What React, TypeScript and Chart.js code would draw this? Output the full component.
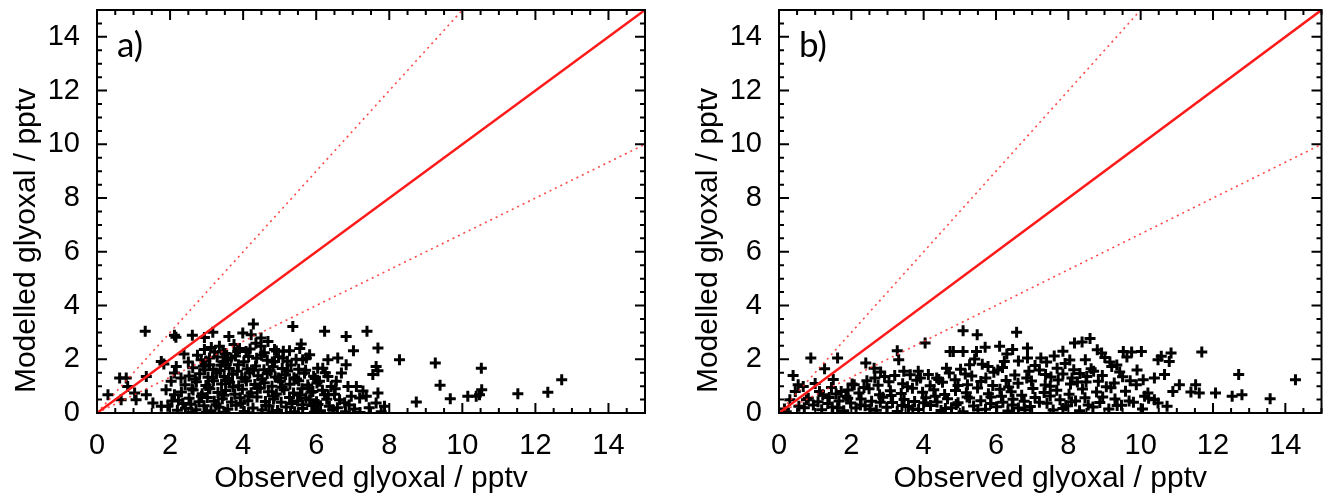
import React, { useEffect, useRef } from "react";
import { Chart, registerables } from "chart.js";
Chart.register(...registerables);

// ---------- axis / reference data ----------
const tickValues = [0, 2, 4, 6, 8, 10, 12, 14];
const axisMin = 0;
const axisMax = 15;
const oneToOneX = [0, 15];
const oneToOneY = [0, 15];
const upperX = [0, 10];
const upperY = [0, 15];
const lowerX = [0, 15];
const lowerY = [0, 10];
const xTitle = "Observed glyoxal / pptv";
const yTitle = "Modelled glyoxal / pptv";

// ---------- panel a) ----------
const obsA = [
  1.32, 2.12, 2.16, 2.61, 2.94, 3.17, 3.61, 4.28, 3.99, 4.22, 4.49,
  1.76, 1.83, 2.38, 2.17, 2.12, 0.62, 0.8, 1.35, 0.3, 0.84, 1.03, 1.07, 1.35, 0.66, 1.53, 1.76, 1.94, 1.89, 2.03, 2.12,
  2.94, 3.13, 3.35, 3.44, 2.85, 3.08, 3.08, 3.85, 4.08, 4.49, 4.68, 3.67, 3.54,
  5.36, 6.23, 6.82, 7.39, 5.59, 7.02, 7.69, 8.28, 9.26, 5.27, 6.32, 6.59, 6.82, 7.64, 7.55, 7.69, 9.39, 9.67, 8.74, 7.69,
  7.64, 7.87, 7.37, 7.19, 6.96, 7.1, 6.87, 6.69, 6.55, 6.41, 6.32, 6.23, 6.36, 6.45, 6.18, 6.04, 5.73, 5.82, 5.63, 5.09,
  4.86, 4.86, 6.64, 6.09, 5.91, 5.82, 5.63,
  10.52, 10.53, 10.47, 10.38, 10.15, 11.52, 12.34, 12.72,
  2.42, 2.71, 2.93, 3.12, 3.34, 3.58, 3.81, 4.03, 4.27, 4.52, 4.71, 4.94, 5.18, 5.41, 5.63, 5.88, 6.12, 6.58, 7.78, 2.2,
  2.23, 2.52, 2.79, 3.02, 3.21, 3.43, 3.68, 3.92, 4.13, 4.38, 4.61, 4.83, 5.04, 5.27, 5.49, 5.72, 6.01, 6.29, 6.78,
  2.31, 2.63, 2.88, 3.09, 3.31, 3.52, 3.77, 3.98, 4.22, 4.47, 4.69, 4.91, 5.12, 5.38, 5.61, 5.86, 6.17, 7.28,
  2.41, 2.72, 2.98, 3.19, 3.41, 3.63, 3.88, 4.09, 4.32, 4.58, 4.79, 5.02, 5.28, 5.52, 5.77, 6.02,
  2.52, 2.81, 3.04, 3.27, 3.48, 3.71, 3.96, 4.18, 4.41, 4.66, 4.88, 5.16, 5.39, 5.68, 5.93,
  2.62, 2.91, 3.18, 3.39, 3.62, 3.87, 4.11, 4.34, 4.57, 4.82, 5.07, 5.31, 5.52,
  2.98, 3.29, 3.58, 3.79, 4.02, 4.37, 4.66, 4.97, 5.21,
  3.22, 3.51, 4.19, 4.58, 4.91,
];
const modA = [
  3.04, 2.89, 2.82, 2.89, 2.81, 3.01, 2.85, 3.31, 2.98, 2.91, 2.79,
  1.92, 1.82, 2.2, 1.73, 1.49, 1.3, 1.3, 1.36, 0.68, 0.99, 0.74, 0.49, 0.68, 0.49, 0.37, 0.25, 0.25, 0.87, 1.18, 0.68,
  2.36, 2.44, 2.48, 2.29, 1.98, 2.05, 1.8, 2.29, 2.29, 2.48, 2.66, 2.05, 1.8,
  3.22, 3.04, 2.85, 3.04, 2.57, 2.32, 2.42, 1.98, 1.86, 2.32, 1.98, 2.05, 1.8, 1.73, 1.43, 1.57, 1.03, 0.53, 0.41, 0.74,
  0.37, 0.25, 0.62, 0.56, 0.62, 0.99, 0.99, 1.49, 1.18, 0.99, 1.36, 0.68, 0.25, 0.12, 1.67, 1.67, 2.05, 2.17, 1.98, 2.05,
  1.92, 2.36, 0.49, 1.18, 0.8, 0.49, 0.31,
  1.67, 0.87, 0.68, 0.62, 0.62, 0.72, 0.77, 1.24,
  0.18, 0.12, 0.27, 0.08, 0.21, 0.14, 0.29, 0.06, 0.19, 0.11, 0.26, 0.09, 0.22, 0.05, 0.17, 0.28, 0.08, 0.2, 0.05, 0.1,
  0.47, 0.55, 0.42, 0.58, 0.44, 0.53, 0.41, 0.57, 0.46, 0.6, 0.43, 0.52, 0.4, 0.58, 0.45, 0.56, 0.42, 0.51, 0.38,
  0.78, 0.86, 0.72, 0.9, 0.76, 0.84, 0.7, 0.88, 0.75, 0.92, 0.79, 0.71, 0.87, 0.74, 0.9, 0.77, 0.85, 0.82,
  1.05, 1.16, 1.02, 1.2, 1.08, 1.14, 1.01, 1.19, 1.06, 1.13, 1.0, 1.18, 1.07, 1.2, 1.04, 1.12,
  1.38, 1.46, 1.33, 1.49, 1.36, 1.44, 1.31, 1.5, 1.39, 1.47, 1.34, 1.42, 1.31, 1.48, 1.37,
  1.68, 1.74, 1.62, 1.78, 1.66, 1.8, 1.64, 1.75, 1.61, 1.72, 1.66, 1.79, 1.63,
  1.94, 2.08, 1.97, 2.12, 1.91, 2.04, 1.96, 2.09, 1.93,
  2.27, 2.21, 2.38, 2.24, 2.31,
];
// denser core of panel a)
const obsA2 = [
  2.57, 2.86, 3.05, 3.26, 3.47, 3.72, 3.94, 4.16, 4.39, 4.62, 4.85, 5.07, 5.34, 5.57, 5.79, 6.05, 6.33, 6.52, 6.9, 7.05, 7.45,
  2.69, 2.95, 3.16, 3.37, 3.6, 3.84, 4.05, 4.28, 4.51, 4.74, 4.97, 5.22, 5.46, 5.71, 5.97, 6.25, 6.5,
  3.45, 3.9, 4.15, 4.5, 4.8, 5.1, 5.45, 5.55, 3.75, 4.35, 2.75, 2.5, 2.3, 2.6, 2.35, 2.05,
  3.0, 3.5, 4.15, 4.8, 5.3, 5.95, 6.8, 7.2, 2.6,
];
const modA2 = [
  0.33, 0.62, 0.95, 0.31, 0.66, 0.97, 0.36, 0.64, 0.93, 0.29, 0.63, 0.96, 0.35, 0.67, 0.94, 0.32, 0.68, 0.9, 0.3, 0.15, 0.2,
  1.27, 1.61, 1.31, 1.58, 1.25, 1.55, 1.29, 1.6, 1.26, 1.57, 1.3, 1.56, 1.27, 1.59, 1.28, 1.5, 0.7,
  1.9, 2.4, 2.1, 2.15, 1.9, 2.3, 2.0, 2.4, 2.55, 2.6, 2.15, 1.9, 1.3, 0.9, 0.35, 0.45,
  0.02, 0.03, 0.01, 0.04, 0.02, 0.03, 0.05, 0.02, 0.03,
];

// ---------- panel b) ----------
const obsB = [
  0.39, 0.88, 1.26, 1.62, 0.53, 0.67, 0.3, 1.12, 1.21, 2.4, 2.63, 2.81, 3.27, 3.31, 3.45, 4.04, 4.73, 4.63, 4.13, 4.36,
  3.91, 2.08, 1.72, 1.85, 0.76, 0.15, 0.55, 0.95,
  5.09, 5.48, 6.57, 8.17, 8.38, 8.6, 8.47, 8.92, 9.01, 9.52, 9.75, 4.82, 5.09, 5.46, 6.1, 6.46, 6.87, 6.87, 7.24, 6.23,
  7.69, 8.15, 9.2, 5.78, 5.27, 7.37, 8.1, 8.51, 8.83,
  10.02, 10.48, 10.57, 10.84, 10.79, 11.69, 10.66, 10.38, 10.07, 9.88, 11.07, 10.89, 11.52, 11.62, 12.07, 12.53, 12.8,
  12.71, 13.58, 14.28, 10.11, 10.2, 10.38, 10.48, 10.73, 11.39,
  1.18, 1.47, 1.79, 2.13, 2.38, 2.69, 2.98, 3.27, 3.58, 3.86, 4.19, 4.48, 4.77, 5.09, 5.38, 5.71, 6.02, 6.33, 6.62, 7.58,
  7.93, 8.31, 8.68, 9.12, 9.47, 6.95,
  0.81, 1.08, 1.39, 1.66, 1.98, 2.27, 2.56, 2.87, 3.14, 3.46, 3.75, 4.06, 4.37, 4.66, 4.95, 5.27, 5.58, 5.86, 6.19, 6.47,
  6.78, 7.08, 7.41, 7.77, 8.09, 8.46, 8.87, 9.29, 9.68, 10.22,
  1.58, 1.91, 2.21, 2.49, 2.78, 3.08, 3.38, 3.69, 3.97, 4.28, 4.58, 4.88, 5.18, 5.49, 5.79, 6.11, 6.42, 6.71, 7.02, 7.33,
  7.68, 8.02, 8.39, 8.78, 9.18, 9.58,
  2.02, 2.43, 2.74, 3.04, 3.42, 3.81, 4.18, 4.52, 4.87, 5.21, 5.58, 5.91, 6.28, 6.61, 6.98, 7.36, 7.72, 8.06, 8.49, 9.27,
  9.71,
  2.92, 3.63, 4.71, 5.33, 5.94, 6.52, 6.91, 7.52, 8.32, 8.94, 9.42,
  5.02, 5.62, 6.18, 7.08, 7.91, 8.63, 9.34,
  5.41, 6.62, 7.61, 8.04, 9.62,
];
const modB = [
  1.4, 2.05, 1.65, 2.05, 1.05, 0.99, 0.49, 0.8, 0.68, 1.86, 1.67, 1.53, 2.32, 1.98, 1.55, 2.61, 2.29, 1.67, 1.43, 1.3,
  1.3, 1.05, 0.8, 0.62, 0.49, 0.15, 0.25, 0.3,
  3.06, 2.91, 3.01, 2.61, 2.64, 2.77, 1.98, 2.23, 2.07, 2.29, 2.27, 2.29, 2.29, 2.29, 2.48, 2.36, 2.42, 2.05, 2.05, 1.92,
  1.67, 1.61, 1.73, 1.73, 1.8, 1.43, 1.3, 1.36, 1.18,
  2.29, 1.98, 2.11, 2.23, 1.92, 2.27, 1.43, 1.3, 1.24, 1.05, 1.05, 0.8, 1.05, 0.74, 0.74, 0.62, 0.68,
  1.43, 0.53, 1.24, 0.62, 0.74, 0.49, 0.37, 0.25, 0.78,
  0.12, 0.22, 0.08, 0.19, 0.27, 0.1, 0.21, 0.06, 0.24, 0.13, 0.28, 0.09, 0.2, 0.05, 0.26, 0.14, 0.23, 0.07, 0.19, 0.11,
  0.27, 0.08, 0.22, 0.15, 0.29, 0.24,
  0.55, 0.42, 0.58, 0.45, 0.37, 0.52, 0.44, 0.59, 0.39, 0.5, 0.43, 0.57, 0.41, 0.53, 0.38, 0.56, 0.46, 0.6, 0.4, 0.51,
  0.44, 0.58, 0.36, 0.49, 0.42, 0.57, 0.39, 0.52, 0.45, 0.55,
  0.71, 0.86, 0.74, 0.9, 0.68, 0.83, 0.73, 0.92, 0.77, 0.87, 0.69, 0.84, 0.75, 0.93, 0.72, 0.88, 0.79, 0.66, 0.91, 0.76,
  0.85, 0.7, 0.89, 0.78, 0.94, 0.81,
  1.08, 1.2, 1.03, 1.16, 1.09, 1.22, 1.01, 1.14, 1.24, 1.05, 1.17, 1.02, 1.21, 1.11, 1.19, 1.04, 1.23, 1.08, 1.15, 1.12,
  1.2,
  1.36, 1.42, 1.49, 1.38, 1.52, 1.41, 1.55, 1.34, 1.47, 1.4, 1.53,
  1.63, 1.81, 1.69, 1.77, 1.84, 1.65, 1.79,
  2.01, 1.94, 2.12, 1.97, 2.08,
];
// denser core of panel b)
const obsB2 = [
  1.35, 1.62, 1.9, 2.25, 2.52, 2.8, 3.1, 3.4, 3.7, 4.0, 4.32, 4.6, 4.9, 5.2, 5.5, 5.85, 6.15, 6.45, 6.8, 7.2, 7.5, 7.85,
  8.2, 8.55, 8.95, 9.35, 9.8, 10.05,
  2.35, 2.65, 3.2, 3.55, 3.85, 4.42, 4.95, 5.15, 5.72, 6.05, 6.35, 6.85, 7.2, 7.5, 7.85, 8.25, 8.7, 9.05, 9.5, 9.9,
  8.8, 9.15, 7.85, 6.3, 5.7, 7.4,
  0.45, 0.7, 1.0, 1.45, 0.2, 1.5,
];
const modB2 = [
  0.35, 0.2, 0.55, 0.3, 0.15, 0.4, 0.65, 0.28, 0.15, 0.38, 0.62, 0.17, 0.32, 0.6, 0.12, 0.35, 0.62, 0.3, 0.12, 0.4, 0.63, 0.17,
  0.45, 0.3, 0.6, 0.28, 0.4, 0.15,
  0.95, 1.3, 1.4, 0.98, 1.55, 1.25, 1.02, 1.45, 1.3, 1.6, 0.97, 1.3, 1.6, 1.0, 1.45, 1.15, 1.55, 0.98, 1.35, 1.6,
  2.35, 1.9, 2.3, 2.2, 2.45, 1.9,
  0.8, 0.2, 1.1, 0.95, 0.05, 1.25,
];

const FONT = "'Liberation Sans', Arial, Helvetica, sans-serif";

const frameTicks = {
  id: "frameTicks",
  afterDraw(chart: any, _args: any, opts: any) {
    const { ctx, chartArea: ca, scales } = chart;
    const xs = scales.x;
    const ys = scales.y;
    ctx.save();
    ctx.strokeStyle = "#000";
    ctx.lineWidth = 2;
    ctx.strokeRect(ca.left, ca.top, ca.right - ca.left, ca.bottom - ca.top);
    ctx.beginPath();
    for (let i = 0; i <= 30; i++) {
      const v = i * 0.5;
      const major = i % 4 === 0;
      const len = major ? 10 : 5;
      const px = xs.getPixelForValue(v);
      const py = ys.getPixelForValue(v);
      ctx.moveTo(px, ca.bottom);
      ctx.lineTo(px, ca.bottom - len);
      ctx.moveTo(px, ca.top);
      ctx.lineTo(px, ca.top + len);
      ctx.moveTo(ca.left, py);
      ctx.lineTo(ca.left + len, py);
      ctx.moveTo(ca.right, py);
      ctx.lineTo(ca.right - len, py);
    }
    ctx.stroke();
    ctx.fillStyle = "#000";
    if (opts && opts.label) {
      ctx.font = "35px Lato, 'Open Sans', sans-serif";
      ctx.textAlign = "left";
      ctx.textBaseline = "alphabetic";
      ctx.fillText(opts.label, ca.left + 20, ca.top + 47);
    }
    if (opts && opts.yTitle) {
      ctx.save();
      ctx.translate(27, ca.top + (ca.bottom - ca.top) / 2 + 29);
      ctx.rotate(-Math.PI / 2);
      ctx.font = "30px " + FONT;
      ctx.textAlign = "center";
      ctx.textBaseline = "middle";
      ctx.fillText(opts.yTitle, 0, 0);
      ctx.restore();
    }
    ctx.restore();
  },
};

function toPoints(xs: number[], ys: number[]) {
  return xs.map((x, i) => ({ x, y: ys[i] }));
}

function makeConfig(obs: number[], mod: number[], label: string, rightPad: number) {
  const tickCb = (scale: any) => {
    scale.ticks = tickValues.map((v) => ({ value: v }));
  };
  return {
    type: "scatter",
    data: {
      datasets: [
        {
          label: "1:1",
          data: toPoints(oneToOneX, oneToOneY),
          showLine: true,
          borderColor: "#ff1a1a",
          borderWidth: 2.5,
          pointRadius: 0,
          clip: 0,
        },
        {
          label: "upper",
          data: toPoints(upperX, upperY),
          showLine: true,
          borderColor: "rgba(255,40,40,0.85)",
          borderWidth: 1.6,
          borderDash: [2, 4],
          pointRadius: 0,
          clip: 0,
        },
        {
          label: "lower",
          data: toPoints(lowerX, lowerY),
          showLine: true,
          borderColor: "rgba(255,40,40,0.85)",
          borderWidth: 1.6,
          borderDash: [2, 4],
          pointRadius: 0,
          clip: 0,
        },
        {
          label: "obs vs model",
          data: toPoints(obs, mod),
          showLine: false,
          pointStyle: "cross",
          pointRadius: 5.5,
          pointBorderWidth: 3,
          borderColor: "#000",
          backgroundColor: "#000",
          clip: 0,
        },
      ],
    },
    options: {
      responsive: false,
      animation: false,
      events: [],
      layout: { padding: { top: 10, right: rightPad, bottom: 0, left: 0 } },
      plugins: {
        legend: { display: false },
        tooltip: { enabled: false },
        frameTicks: { label, yTitle },
      },
      scales: {
        x: {
          type: "linear",
          min: axisMin,
          max: axisMax,
          afterBuildTicks: tickCb,
          afterFit: (s: any) => {
            s.height = 84;
            s.paddingLeft = 0;
            s.paddingRight = 0;
          },
          grid: { display: false },
          border: { display: false },
          ticks: {
            color: "#000",
            font: { family: FONT, size: 29 },
            padding: 8,
            maxRotation: 0,
            autoSkip: false,
          },
          title: {
            display: true,
            text: xTitle,
            color: "#000",
            font: { family: FONT, size: 30 },
            padding: { top: 0, bottom: 0 },
          },
        },
        y: {
          type: "linear",
          min: axisMin,
          max: axisMax,
          afterBuildTicks: tickCb,
          afterFit: (s: any) => {
            s.width = 97;
            s.paddingTop = 0;
            s.paddingBottom = 0;
          },
          grid: { display: false },
          border: { display: false },
          ticks: {
            color: "#000",
            font: { family: FONT, size: 29 },
            padding: 9,
            autoSkip: false,
          },
          title: { display: false, text: yTitle },
        },
      },
    },
    plugins: [frameTicks],
  } as any;
}

function Panel(props: { obs: number[]; mod: number[]; label: string; left: number; width: number; rightPad: number }) {
  const ref = useRef<HTMLCanvasElement | null>(null);
  useEffect(() => {
    if (!ref.current) return;
    const chart = new Chart(ref.current, makeConfig(props.obs, props.mod, props.label, props.rightPad));
    return () => chart.destroy();
  }, []);
  return (
    <canvas
      ref={ref}
      width={props.width}
      height={497}
      style={{ position: "absolute", left: props.left, top: 0, width: props.width, height: 497 }}
    />
  );
}

export default function App() {
  return (
    <div style={{ position: "fixed", left: 0, top: 0, width: 1330, height: 497, background: "#fff", overflow: "hidden" }}>
      <Panel obs={obsA.concat(obsA2)} mod={modA.concat(modA2)} label="a)" left={0} width={682} rightPad={37} />
      <Panel obs={obsB.concat(obsB2)} mod={modB.concat(modB2)} label="b)" left={682} width={648} rightPad={3} />
    </div>
  );
}
